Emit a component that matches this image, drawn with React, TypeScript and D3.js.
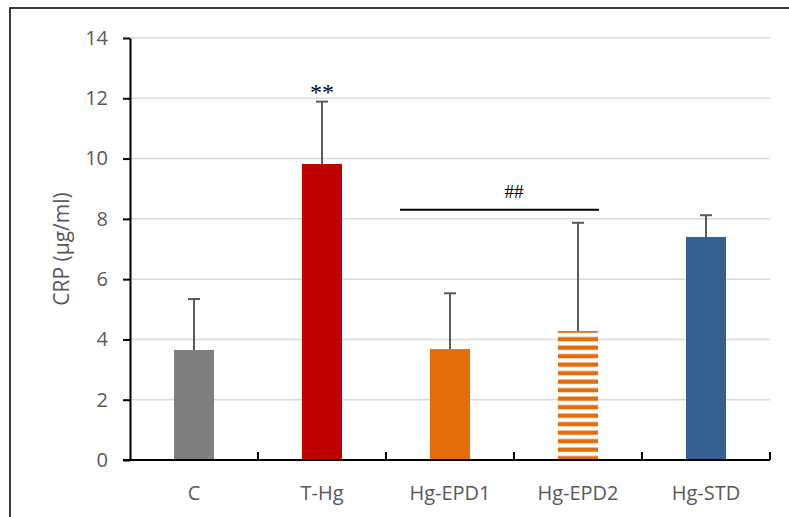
import React, { useEffect, useRef } from 'react'
import * as d3 from 'd3'

const categories = ['C', 'T-Hg', 'Hg-EPD1', 'Hg-EPD2', 'Hg-STD']
const means = [3.65, 9.82, 3.68, 4.28, 7.4]
const errors = [1.69, 2.07, 1.85, 3.59, 0.72]
const colors = ['#7f7f7f', '#c00000', '#e46c0a', 'url(#stripes)', '#376092']
const yTicks = [0, 2, 4, 6, 8, 10, 12, 14]

export default function App() {
  const ref = useRef<SVGSVGElement>(null)

  useEffect(() => {
    const svg = d3.select(ref.current)
    svg.selectAll('*').remove()

    const margin = { top: 38, right: 19, bottom: 57, left: 130 }
    const width = 789 - margin.left - margin.right
    const height = 517 - margin.top - margin.bottom
    const font = "'Open Sans', 'DejaVu Sans', sans-serif"

    // outer chart frame, clipped on the right and bottom
    svg.append('rect')
      .attr('x', 10).attr('y', 8)
      .attr('width', 800).attr('height', 520)
      .attr('fill', '#fff').attr('stroke', '#262626').attr('stroke-width', 1.8)

    // striped fill for Hg-EPD2
    const pat = svg.append('defs').append('pattern')
      .attr('id', 'stripes')
      .attr('patternUnits', 'userSpaceOnUse')
      .attr('width', 8).attr('height', 8.5)
      .attr('y', 460)
    pat.append('rect').attr('width', 8).attr('height', 8.5).attr('fill', '#fff')
    pat.append('rect').attr('y', 0.5).attr('width', 8).attr('height', 4.3).attr('fill', '#e46c0a')

    const g = svg.append('g').attr('transform', `translate(${margin.left},${margin.top})`)

    const x = d3.scaleBand().domain(categories).range([0, width])
    const y = d3.scaleLinear().domain([0, 14]).range([height, 0])
    const barW = x.bandwidth() * 0.3125

    // gridlines
    g.selectAll('.grid')
      .data(yTicks.filter(t => t > 0))
      .enter().append('line')
      .attr('x1', 0).attr('x2', width)
      .attr('y1', d => y(d)).attr('y2', d => y(d))
      .attr('stroke', '#d9d9d9').attr('stroke-width', 1.5)

    // bars
    g.selectAll('.bar')
      .data(categories)
      .enter().append('rect')
      .attr('x', d => x(d)! + x.bandwidth() / 2 - barW / 2)
      .attr('y', (d, i) => y(means[i]))
      .attr('width', barW)
      .attr('height', (d, i) => height - y(means[i]))
      .attr('fill', (d, i) => colors[i])

    // error bars (upper only)
    categories.forEach((c, i) => {
      const cx = x(c)! + x.bandwidth() / 2
      g.append('line')
        .attr('x1', cx).attr('x2', cx)
        .attr('y1', y(means[i])).attr('y2', y(means[i] + errors[i]))
        .attr('stroke', '#595959').attr('stroke-width', 2)
      g.append('line')
        .attr('x1', cx - 6).attr('x2', cx + 6)
        .attr('y1', y(means[i] + errors[i])).attr('y2', y(means[i] + errors[i]))
        .attr('stroke', '#595959').attr('stroke-width', 2)
    })

    // y axis
    const yAxis = g.append('g')
      .call(d3.axisLeft(y).tickValues(yTicks).tickSize(7).tickPadding(15).tickSizeOuter(0))
    yAxis.attr('font-size', null).attr('font-family', null)
    yAxis.select('.domain').attr('stroke', '#000').attr('stroke-width', 2)
    yAxis.selectAll('.tick line').attr('stroke', '#000').attr('stroke-width', 2)
    yAxis.selectAll('text')
      .attr('fill', '#595959').style('font-size', '20px').style('font-family', font)

    // x axis with ticks between categories, pointing up
    const xAxis = g.append('g').attr('transform', `translate(0,${height})`)
    xAxis.append('line')
      .attr('x1', -7).attr('x2', width)
      .attr('stroke', '#000').attr('stroke-width', 2)
    xAxis.selectAll('.sep')
      .data(categories)
      .enter().append('line')
      .attr('x1', d => x(d)! + x.bandwidth()).attr('x2', d => x(d)! + x.bandwidth())
      .attr('y1', 0).attr('y2', -8)
      .attr('stroke', '#000').attr('stroke-width', 2)
    xAxis.selectAll('.lbl')
      .data(categories)
      .enter().append('text')
      .attr('x', d => x(d)! + x.bandwidth() / 2)
      .attr('y', 40)
      .attr('text-anchor', 'middle')
      .attr('fill', '#595959').style('font-size', '20px').style('font-family', font)
      .text(d => d)

    // y label
    svg.append('text')
      .attr('transform', `translate(69,${margin.top + height / 2}) rotate(-90)`)
      .attr('text-anchor', 'middle')
      .attr('fill', '#595959').style('font-size', '21px').style('font-family', font)
      .text('CRP (μg/ml)')

    // significance marks
    g.append('text')
      .attr('x', x('T-Hg')! + x.bandwidth() / 2)
      .attr('y', y(means[1] + errors[1]) - 2)
      .attr('text-anchor', 'middle')
      .style('font-size', '24px').style('font-family', "'Liberation Serif', serif")
      .text('**')

    const lx1 = x('Hg-EPD1')! + x.bandwidth() / 2 - 50
    const lx2 = x('Hg-EPD2')! + x.bandwidth() / 2 + 21
    g.append('line')
      .attr('x1', lx1).attr('x2', lx2)
      .attr('y1', y(8.3)).attr('y2', y(8.3))
      .attr('stroke', '#000').attr('stroke-width', 2)
    g.append('text')
      .attr('x', (x('Hg-EPD1')! + x('Hg-EPD2')! + x.bandwidth()) / 2)
      .attr('y', y(8.3) - 12)
      .attr('text-anchor', 'middle')
      .style('font-size', '19px').style('font-family', "'Liberation Serif', serif")
      .text('##')
  }, [])

  return (
    <svg ref={ref} width={789} height={517}
      style={{ position: 'absolute', left: 0, top: 0 }} />
  )
}
